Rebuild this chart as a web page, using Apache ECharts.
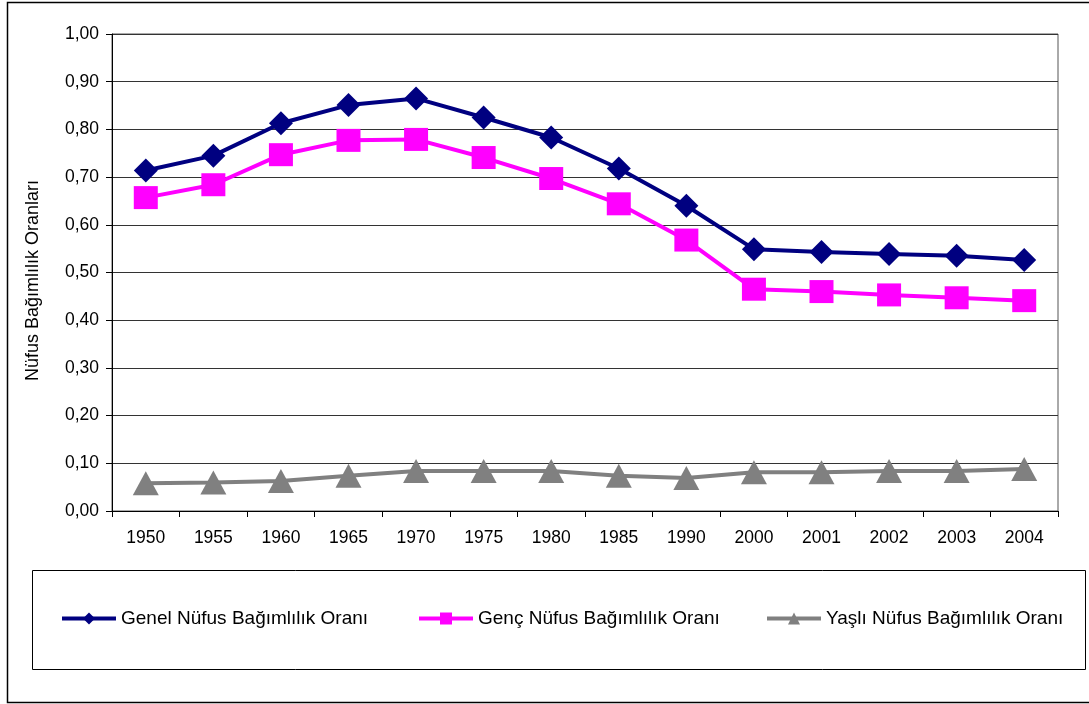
<!DOCTYPE html>
<html>
<head>
<meta charset="utf-8">
<script src="https://cdn.jsdelivr.net/npm/echarts@6/dist/echarts.min.js"></script>
<style>
  html, body { margin: 0; padding: 0; background: #fff; }
  #chart { width: 1089px; height: 704px; }
</style>
</head>
<body>
<div id="chart"></div>
<script>
// Dependency ratios by census year
const years = ['1950', '1955', '1960', '1965', '1970', '1975', '1980', '1985', '1990', '2000', '2001', '2002', '2003', '2004'];
const genel = [0.714, 0.745, 0.813, 0.851, 0.865, 0.825, 0.783, 0.718, 0.640, 0.549, 0.543, 0.539, 0.535, 0.526];
const genc  = [0.657, 0.684, 0.747, 0.777, 0.779, 0.741, 0.697, 0.644, 0.568, 0.465, 0.460, 0.453, 0.447, 0.441];
const yasli = [0.058, 0.060, 0.063, 0.074, 0.084, 0.084, 0.084, 0.074, 0.069, 0.081, 0.081, 0.084, 0.084, 0.088];

const names = ['Genel Nüfus Bağımlılık Oranı', 'Genç Nüfus Bağımlılık Oranı', 'Yaşlı Nüfus Bağımlılık Oranı'];
const FONT = "'Liberation Sans', Arial, sans-serif";

const chart = echarts.init(document.getElementById('chart'));

const legendBase = {
  top: 604,
  itemWidth: 54,
  itemHeight: 15,
  itemGap: 0,
  lineStyle: { width: 4 },
  textStyle: { fontFamily: FONT, fontSize: 19, color: '#000' }
};

chart.setOption({
  animation: false,
  textStyle: { fontFamily: FONT },
  graphic: [
    { type: 'rect', shape: { x: 7.5, y: 2.5, width: 1095, height: 700 }, style: { fill: 'none', stroke: '#000', lineWidth: 1.5 }, silent: true },
    { type: 'rect', shape: { x: 32.5, y: 570.5, width: 1053, height: 99 }, style: { fill: 'none', stroke: '#000', lineWidth: 1 }, silent: true }
  ],
  legend: [
    Object.assign({ data: [names[0]], left: 55 }, legendBase),
    Object.assign({ data: [names[1]], left: 412 }, legendBase),
    Object.assign({ data: [names[2]], left: 760 }, legendBase)
  ],
  grid: {
    left: 112, right: 31, top: 34, bottom: 193,
    show: true, borderColor: '#555', borderWidth: 1
  },
  xAxis: {
    type: 'category',
    data: years,
    boundaryGap: true,
    axisLine: { lineStyle: { color: '#000', width: 1 } },
    axisTick: { show: true, length: 6, lineStyle: { color: '#000' } },
    axisLabel: { color: '#000', fontSize: 17.5, margin: 18 }
  },
  yAxis: {
    type: 'value',
    min: 0, max: 1, interval: 0.1,
    name: 'Nüfus Bağımlılık Oranları',
    nameLocation: 'middle',
    nameGap: 70,
    nameTextStyle: { color: '#000', fontSize: 18, padding: [0, 16, 0, 0] },
    axisLine: { show: true, lineStyle: { color: '#000', width: 1 } },
    axisTick: { show: true, length: 6, lineStyle: { color: '#000' } },
    axisLabel: {
      color: '#000', fontSize: 17.5, margin: 13,
      formatter: v => v.toFixed(2).replace('.', ',')
    },
    splitLine: { lineStyle: { color: '#333', width: 1 } }
  },
  series: [
    {
      name: names[0], type: 'line', data: genel,
      symbol: 'diamond', symbolSize: [24, 24],
      lineStyle: { color: '#000080', width: 4 },
      itemStyle: { color: '#000080' }
    },
    {
      name: names[1], type: 'line', data: genc,
      symbol: 'rect', symbolSize: [24, 23],
      lineStyle: { color: '#FF00FF', width: 4 },
      itemStyle: { color: '#FF00FF' }
    },
    {
      name: names[2], type: 'line', data: yasli,
      symbol: 'triangle', symbolSize: [26, 24],
      lineStyle: { color: '#808080', width: 4 },
      itemStyle: { color: '#808080' }
    }
  ]
});
</script>
</body>
</html>
